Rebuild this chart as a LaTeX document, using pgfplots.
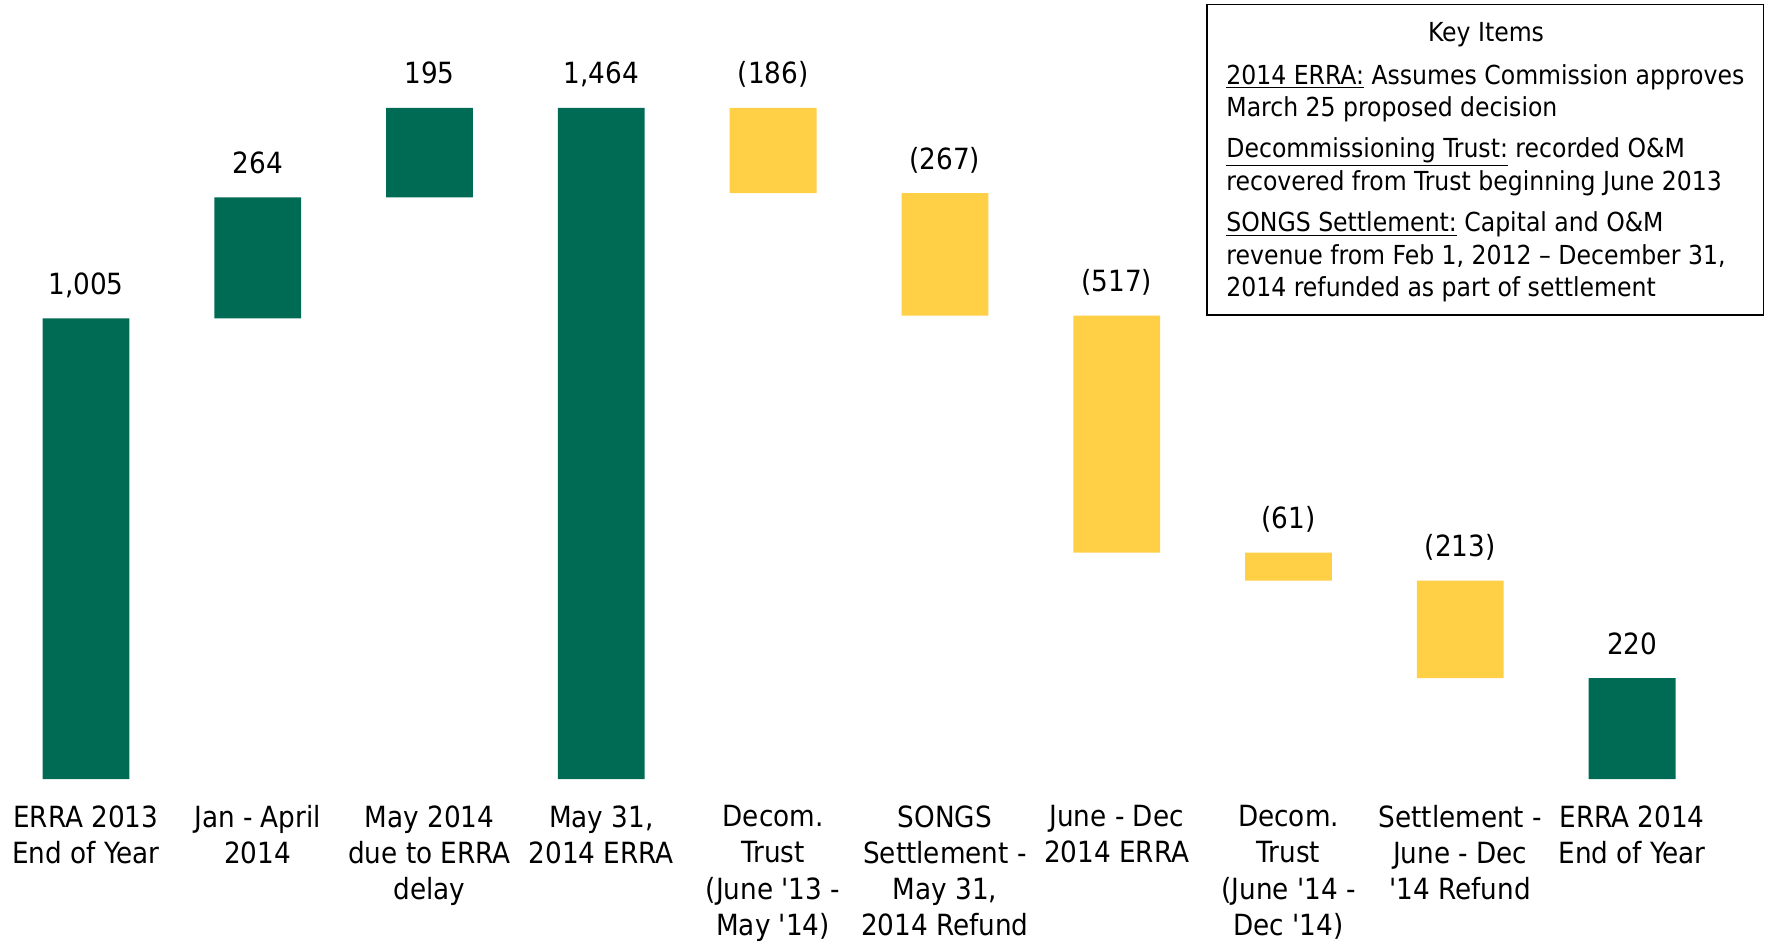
\documentclass[border=0pt]{standalone}
\usepackage{pgfplots}
\pgfplotsset{compat=1.18}
\usepackage{pgfplotstable}
\usepackage{fontspec}
\setmainfont{DejaVu Sans Condensed}
\definecolor{sgreen}{HTML}{006B54}
\definecolor{syellow}{HTML}{FFD045}
\newcommand{\q}{\textquotesingle}
\pgfplotstableread{
x base green yellow top label
0 0    1005 0   1005 {1,005}
1 1005 264  0   1269 {264}
2 1269 195  0   1464 {195}
3 0    1464 0   1464 {1,464}
4 1278 0    186 1464 {(186)}
5 1011 0    267 1278 {(267)}
6 494  0    517 1011 {(517)}
7 433  0    61  494  {(61)}
8 220  0    213 433  {(213)}
9 0    220  0   220  {220}
}\wfdata
\pgfplotsset{wfgeom/.style={
  x=85.9pt, y=0.2292pt,
  xmin=-0.5, xmax=9.77, ymin=0, ymax=1699,
  axis line style={draw=none}, tick style={draw=none},
  ytick=\empty, clip=false}}
\begin{document}
\begin{tikzpicture}
\begin{axis}[
  wfgeom,
  ybar stacked, bar width=43.4pt,
  xtick={0,...,9},
  xticklabels={{ERRA 2013\\End of Year},{Jan - April\\2014},{May 2014\\due to ERRA\\delay},{May 31,\\2014 ERRA},{Decom.\\Trust\\(June \q13 -\\May \q14)},{SONGS\\Settlement -\\May 31,\\2014 Refund},{June - Dec\\2014 ERRA},{Decom.\\Trust\\(June \q14 -\\Dec \q14)},{Settlement -\\June - Dec\\\q14 Refund},{ERRA 2014\\End of Year}},
  xticklabel style={align=center, font=\fontsize{14.6}{18.1}\selectfont, anchor=north, inner sep=0pt, yshift=-13pt},
]
\addplot[fill=none, draw=none] table[x=x, y=base] {\wfdata};
\addplot[fill=sgreen, draw=none] table[x=x, y=green] {\wfdata};
\addplot[fill=syellow, draw=none] table[x=x, y=yellow] {\wfdata};
\end{axis}
\begin{axis}[wfgeom, xtick=\empty]
\addplot[draw=none, mark=none, nodes near coords, point meta=explicit symbolic,
  every node near coord/.style={anchor=base, yshift=12pt, inner sep=0pt, font=\fontsize{14.6}{17}\selectfont, text=black}]
  table[x=x, y=top, meta=label] {\wfdata};
\end{axis}
\draw[line width=0.8pt] (603.5pt,232pt) rectangle (881.8pt,387.25pt);
\begin{scope}[every node/.style={inner sep=0pt, font=\fontsize{13.1}{16.3}\selectfont}]
\node[anchor=base] at (743pt,368.7pt) {Key Items};
\node[anchor=base west, align=left] at (613pt,331pt) {\underline{2014 ERRA:} Assumes Commission approves\\March 25 proposed decision};
\node[anchor=base west, align=left] at (613pt,294.4pt) {\underline{Decommissioning Trust:} recorded O\&M\\recovered from Trust beginning June 2013};
\node[anchor=base west, align=left] at (613pt,241pt) {\underline{SONGS Settlement:} Capital and O\&M\\revenue from Feb 1, 2012 -- December 31,\\2014 refunded as part of settlement};
\end{scope}
\pgfresetboundingbox
\path (0pt,-84pt) rectangle (882.5pt,389.5pt);
\end{tikzpicture}
\end{document}
